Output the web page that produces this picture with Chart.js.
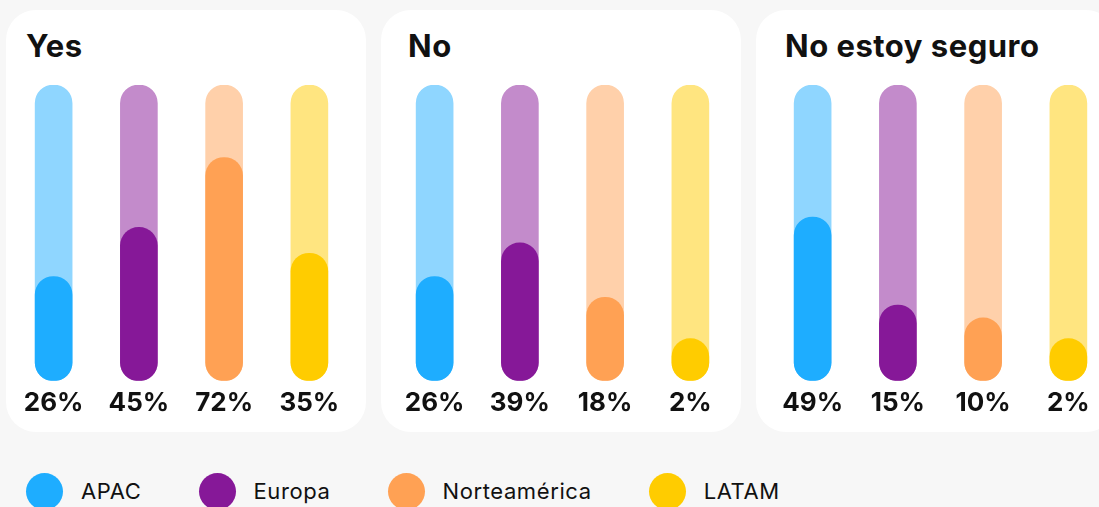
<!DOCTYPE html>
<html>
<head>
<meta charset="utf-8">
<script src="https://cdn.jsdelivr.net/npm/chart.js@4/dist/chart.umd.min.js"></script>
<style>
  html, body { margin: 0; padding: 0; }
  body { width: 1099px; height: 507px; overflow: hidden; background: #f7f7f7; position: relative; font-family: Inter, "Noto Sans", sans-serif; color: #111; }
  .panel { position: absolute; top: 10px; width: 360px; height: 422px; background: #fff; border-radius: 30px; }
  .title { position: absolute; top: 28px; font-size: 31px; line-height: 36px; font-weight: 700; letter-spacing: 0.5px; white-space: nowrap; }
  canvas { position: absolute; top: 80px; }
  #legend { position: absolute; left: 26px; top: 473px; display: flex; align-items: center; }
  .item { display: flex; align-items: center; margin-right: 57px; }
  .dot { width: 37px; height: 37px; border-radius: 50%; margin-right: 18px; }
  .lbl { font-size: 22px; line-height: 37px; letter-spacing: 0.6px; }
</style>
</head>
<body>
<script>
// ---- data ----
const categories = ["APAC", "Europa", "Norteamérica", "LATAM"];
const panelTitles = ["Yes", "No", "No estoy seguro"];
const yesValues = [26, 45, 72, 35];
const noValues = [26, 39, 18, 2];
const unsureValues = [49, 15, 10, 2];
const fullValues = [100, 100, 100, 100];

// ---- styles ----
const fillColors = ["#1eadff", "#861898", "#ffa154", "#ffcc00"];
const trackColors = ["#8fd6ff", "#c38bcb", "#ffd0aa", "#ffe580"];
const panelLefts = [6, 381, 756];
const titleLefts = [26, 408, 785];
const chartLefts = [11, 392, 770];
const BAR_W = 37, TRACK_H = 296;
const CAP = 100 * BAR_W / (TRACK_H - BAR_W); // bar minimum height equals its width

const seriesList = [yesValues, noValues, unsureValues];

seriesList.forEach((vals, p) => {
  const panel = document.createElement('div');
  panel.className = 'panel';
  panel.style.left = panelLefts[p] + 'px';
  document.body.appendChild(panel);

  const t = document.createElement('div');
  t.className = 'title';
  t.style.left = titleLefts[p] + 'px';
  t.textContent = panelTitles[p];
  document.body.appendChild(t);

  const c = document.createElement('canvas');
  c.width = 341; c.height = 346;
  c.style.left = chartLefts[p] + 'px';
  c.style.width = '341px'; c.style.height = '346px';
  document.body.appendChild(c);

  new Chart(c.getContext('2d'), {
    type: 'bar',
    data: {
      labels: categories,
      datasets: [
        { data: vals, backgroundColor: fillColors, base: -CAP, grouped: false,
          barThickness: BAR_W, borderRadius: 30, borderSkipped: false, borderWidth: 0 },
        { data: fullValues, backgroundColor: trackColors, base: -CAP, grouped: false,
          barThickness: BAR_W, borderRadius: 30, borderSkipped: false, borderWidth: 0 }
      ]
    },
    options: {
      responsive: false,
      devicePixelRatio: 1,
      animation: false,
      layout: { padding: { top: 5, left: 0, right: 0, bottom: 0 } },
      plugins: { legend: { display: false }, tooltip: { enabled: false } },
      scales: {
        y: { display: false, min: -CAP, max: 100 },
        x: {
          grid: { display: false, drawTicks: false },
          border: { display: false },
          ticks: {
            padding: 7,
            color: '#111',
            font: { family: 'Inter', size: 26, weight: '700' },
            callback: (v, i) => vals[i] + '%'
          }
        }
      }
    }
  });
});

const legend = document.createElement('div');
legend.id = 'legend';
categories.forEach((name, i) => {
  const it = document.createElement('div');
  it.className = 'item';
  const d = document.createElement('div');
  d.className = 'dot';
  d.style.background = fillColors[i];
  const l = document.createElement('span');
  l.className = 'lbl';
  l.textContent = name;
  it.appendChild(d); it.appendChild(l);
  legend.appendChild(it);
});
document.body.appendChild(legend);
</script>
</body>
</html>
